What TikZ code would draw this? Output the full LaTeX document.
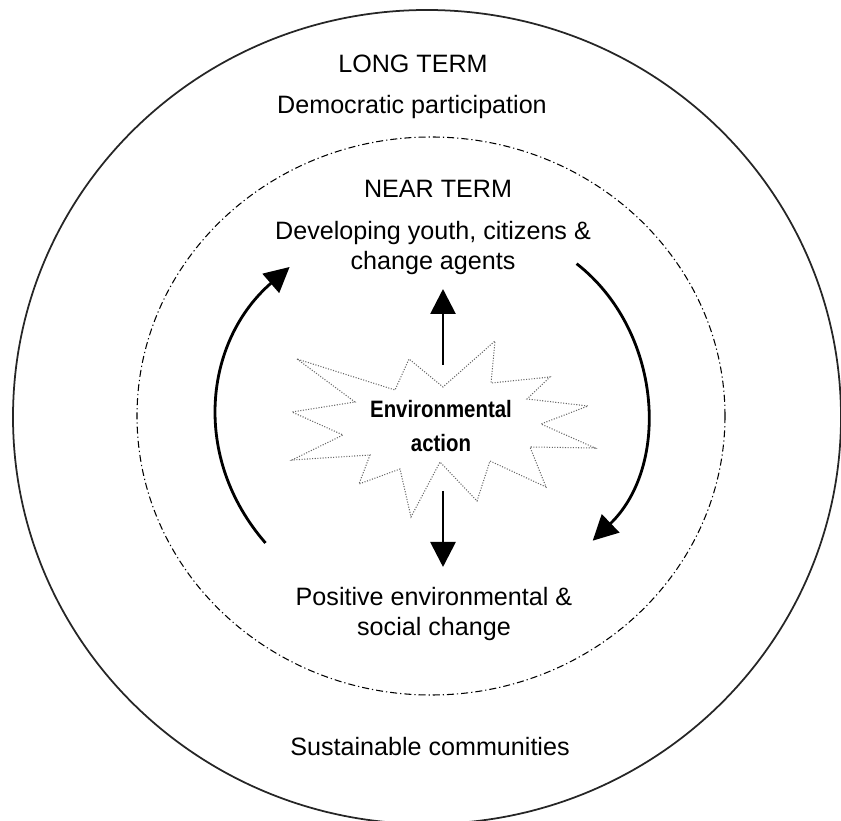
\documentclass[tikz,border=0pt]{standalone}
\usepackage{fontspec}
\setmainfont{Liberation Sans}
\newfontfamily\burstfont[FakeStretch=0.86]{Liberation Sans}
\usetikzlibrary{arrows.meta}

\begin{document}
\begin{tikzpicture}[x=0.2mm,y=0.2mm,
  ring/.style={line width=1pt,draw=black!85},
  nearring/.style={line width=0.6pt,dash pattern=on 4pt off 1.7pt on 0.7pt off 1.7pt},
  burst/.style={line width=0.6pt,draw=black!60,dash pattern=on 0.6pt off 0.9pt},
  arr/.style={line width=1.6pt,-{Triangle[length=0.5cm,width=0.5cm]}},
  lbl/.style={font=\fontsize{14.3}{17.6}\selectfont,align=center,inner sep=0pt}]
\useasboundingbox (0,0) rectangle (841,821);

% the two terms
\draw[ring] (427,404) ellipse [x radius=414, y radius=407];
\draw[nearring] (431,405) ellipse [x radius=294, y radius=279];

\node[lbl,anchor=base] (long) at (413,748) {LONG TERM};
\node[lbl,anchor=base] (demo) at (412,707) {Democratic participation};
\node[lbl,anchor=base] (near) at (438,623) {NEAR TERM};
\node[lbl] (dev) at (433,573) {Developing youth, citizens \&\\change agents};
\node[lbl] (pos) at (434,207) {Positive environmental \&\\social change};
\node[lbl,anchor=base] (sust) at (430,65) {Sustainable communities};

% the burst
\draw[burst] (297,462) -- (355,419) -- (292,409) -- (343,386) -- (292,361) -- (370,366)
  -- (359,337) -- (400,352) -- (411,304) -- (440,359) -- (477,320) -- (490,360)
  -- (546,334) -- (530,374) -- (595,373) -- (541,397) -- (588,415) -- (527,422)
  -- (550,444) -- (491,438) -- (495,480) -- (443,434) -- (409,462) -- (395,431) -- cycle;
\node[lbl,font=\burstfont\bfseries\fontsize{13.5}{19.3}\selectfont] (act) at (441,395) {Environmental\\action};

\coordinate (up1) at (443,456);
\coordinate (up2) at (443,532);
\coordinate (dn1) at (443,330);
\coordinate (dn2) at (443,254);
\coordinate (lft1) at (265.5,278);
\coordinate (lft2) at (289.6,554);
\coordinate (rgt1) at (576.6,557.3);
\coordinate (rgt2) at (592.7,280.3);

\draw[arr] (up1) -- (up2);
\draw[arr] (dn1) -- (dn2);
\draw[arr] (lft1) to[out=131,in=221,looseness=1.05] (lft2);
\draw[arr] (rgt1) to[out=-38,in=44] (rgt2);
\end{tikzpicture}
\end{document}
